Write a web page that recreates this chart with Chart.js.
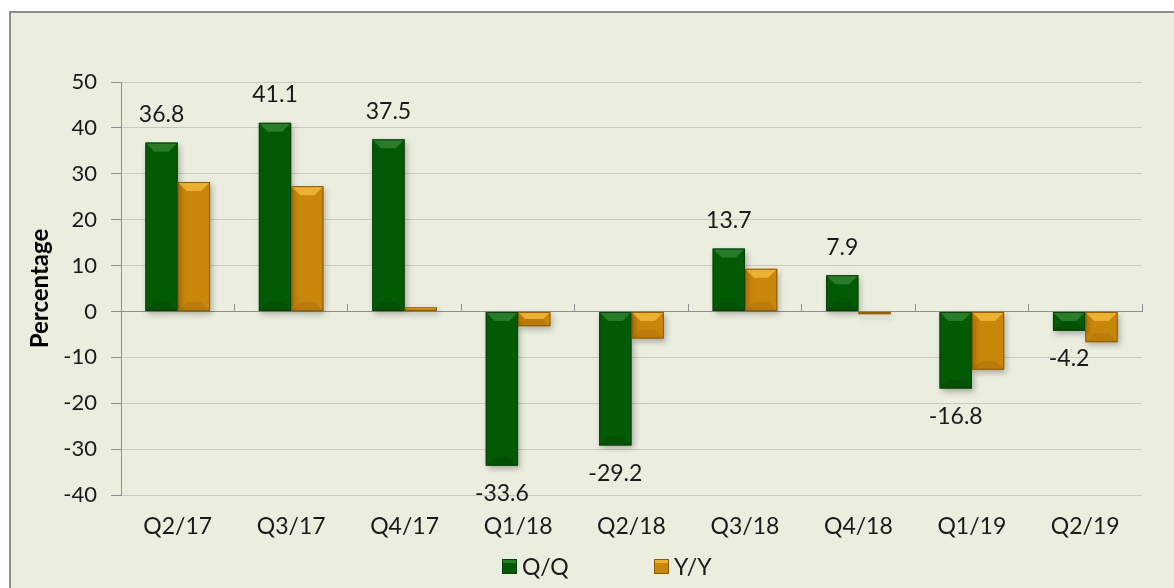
<!DOCTYPE html>
<html>
<head>
<meta charset="utf-8">
<script src="https://cdn.jsdelivr.net/npm/chart.js@4.4.0/dist/chart.umd.min.js"></script>
<style>
    html, body { margin: 0; padding: 0; background: #ffffff; width: 1174px; height: 588px; overflow: hidden; }
    #frame { position: absolute; left: 9px; top: 11px; width: 1200px; height: 620px; border: 2px solid #8e8e8e; background: #ebeedf; }
    #wrap { position: absolute; left: 0; top: 0; width: 1163px; height: 575px; }
    #legend { position: absolute; left: 0; top: 0; font-family: Lato, sans-serif; font-size: 23px; color: #1a1a1a; }
    .item { position: absolute; top: 539px; display: flex; align-items: center; white-space: nowrap; }
    .box { width: 15px; height: 15px; margin-right: 5px; box-sizing: border-box; }
</style>
</head>
<body>
<div id="frame">
    <div id="wrap"><canvas id="barChart"></canvas></div>
    <div id="legend"></div>
</div>
<script>
// Chart data
const quarters = ['Q2/17', 'Q3/17', 'Q4/17', 'Q1/18', 'Q2/18', 'Q3/18', 'Q4/18', 'Q1/19', 'Q2/19'];
const qqValues = [36.8, 41.1, 37.5, -33.6, -29.2, 13.7, 7.9, -16.8, -4.2];
const yyValues = [28.2, 27.3, 0.9, -3.2, -5.9, 9.3, -0.6, -12.7, -6.7];
const seriesNames = ['Q/Q', 'Y/Y'];
const yMin = -40;
const yMax = 50;
const yStep = 10;

const FONT = 'Lato, sans-serif';
const TEXT = '#1a1a1a';
const GRID = '#c9cabd';
const AXIS = '#8e8e8e';

const palette = [
    { fill: '#035a04', light: 'rgba(80, 160, 80, 0.5)', dark: 'rgba(0, 30, 0, 0.15)', edge: '#0b3d0b' },
    { fill: '#c8860a', light: 'rgba(255, 200, 70, 0.65)', dark: 'rgba(90, 50, 0, 0.12)', edge: '#8a5c08' }
];

// soft drop shadow under the bars
const shadowPlugin = {
    id: 'barShadow',
    beforeDatasetsDraw(chart) {
        const ctx = chart.ctx;
        ctx.save();
        ctx.shadowColor = 'rgba(0, 0, 0, 0.28)';
        ctx.shadowBlur = 6;
        ctx.shadowOffsetX = 2;
        ctx.shadowOffsetY = 3;
    },
    afterDatasetsDraw(chart) {
        chart.ctx.restore();
    }
};

// bevel highlight + outline on each bar
const bevelPlugin = {
    id: 'barBevel',
    afterDatasetsDraw(chart) {
        const ctx = chart.ctx;
        chart.data.datasets.forEach((ds, di) => {
            const meta = chart.getDatasetMeta(di);
            const c = palette[di];
            meta.data.forEach(bar => {
                const l = bar.x - bar.width / 2;
                const r = bar.x + bar.width / 2;
                const t = Math.min(bar.y, bar.base);
                const b = Math.max(bar.y, bar.base);
                const h = b - t;
                const s = Math.min(9, h / 2, bar.width / 2);
                ctx.save();
                ctx.fillStyle = c.light;
                ctx.beginPath();
                ctx.moveTo(l, t);
                ctx.lineTo(r, t);
                ctx.lineTo(r - s, t + s);
                ctx.lineTo(l + s, t + s);
                ctx.closePath();
                ctx.fill();
                ctx.fillStyle = c.dark;
                ctx.beginPath();
                ctx.moveTo(l, b);
                ctx.lineTo(r, b);
                ctx.lineTo(r - s, b - s);
                ctx.lineTo(l + s, b - s);
                ctx.closePath();
                ctx.fill();
                ctx.strokeStyle = c.edge;
                ctx.lineWidth = 1;
                ctx.strokeRect(l + 0.5, t + 0.5, r - l - 1, Math.max(0, h - 1));
                ctx.restore();
            });
        });
    }
};

// value labels on the Q/Q bars
const valueLabels = {
    id: 'valueLabels',
    afterDatasetsDraw(chart) {
        const ctx = chart.ctx;
        const meta = chart.getDatasetMeta(0);
        ctx.save();
        ctx.font = '23px ' + FONT;
        ctx.fillStyle = TEXT;
        ctx.textAlign = 'center';
        ctx.textBaseline = 'middle';
        meta.data.forEach((bar, i) => {
            const v = qqValues[i];
            const y = v >= 0 ? bar.y - 28 : bar.y + 28;
            ctx.fillText(v.toFixed(1), bar.x, y);
        });
        ctx.restore();
    }
};

const ctx = document.getElementById('barChart');
new Chart(ctx, {
    type: 'bar',
    data: {
        labels: quarters,
        datasets: [
            { label: seriesNames[0], data: qqValues, backgroundColor: palette[0].fill, borderWidth: 0, barPercentage: 1, categoryPercentage: 0.57 },
            { label: seriesNames[1], data: yyValues, backgroundColor: palette[1].fill, borderWidth: 0, barPercentage: 1, categoryPercentage: 0.57 }
        ]
    },
    options: {
        responsive: true,
        maintainAspectRatio: false,
        animation: false,
        layout: { padding: { top: 69, right: 32, left: 0, bottom: 0 } },
        plugins: {
            legend: { display: false },
            tooltip: { enabled: false }
        },
        scales: {
            x: {
                offset: true,
                grid: { display: false, drawTicks: false },
                border: { display: false },
                ticks: { color: TEXT, font: { family: FONT, size: 23 }, padding: 18, maxRotation: 0 },
                afterFit(scale) { scale.height = 93; }
            },
            x2: {
                type: 'category',
                labels: quarters,
                position: { y: 0 },
                offset: true,
                grid: { offset: true, drawOnChartArea: false, drawTicks: true, tickLength: -8, color: AXIS },
                border: { color: AXIS, width: 1 },
                ticks: { display: false }
            },
            y: {
                min: yMin,
                max: yMax,
                ticks: { stepSize: yStep, color: TEXT, font: { family: FONT, size: 22 }, padding: 14 },
                grid: { color: GRID, tickLength: 10, tickColor: AXIS },
                border: { color: AXIS, width: 1 },
                title: {
                    display: true,
                    text: 'Percentage',
                    color: '#000',
                    font: { family: FONT, size: 24, weight: 'bold' },
                    padding: { top: 15, bottom: 0 }
                },
                afterFit(scale) { scale.width = 110; }
            }
        }
    },
    plugins: [shadowPlugin, bevelPlugin, valueLabels]
});

// legend under the chart
const legend = document.getElementById('legend');
const legendX = [491, 643];
seriesNames.forEach((name, i) => {
    const item = document.createElement('div');
    item.className = 'item';
    item.style.left = legendX[i] + 'px';
    const box = document.createElement('span');
    box.className = 'box';
    box.style.background = palette[i].fill;
    box.style.border = '1px solid ' + palette[i].edge;
    box.style.boxShadow = 'inset 0 3px 0 ' + palette[i].light;
    const label = document.createElement('span');
    label.textContent = name;
    item.appendChild(box);
    item.appendChild(label);
    legend.appendChild(item);
});
</script>
</body>
</html>
